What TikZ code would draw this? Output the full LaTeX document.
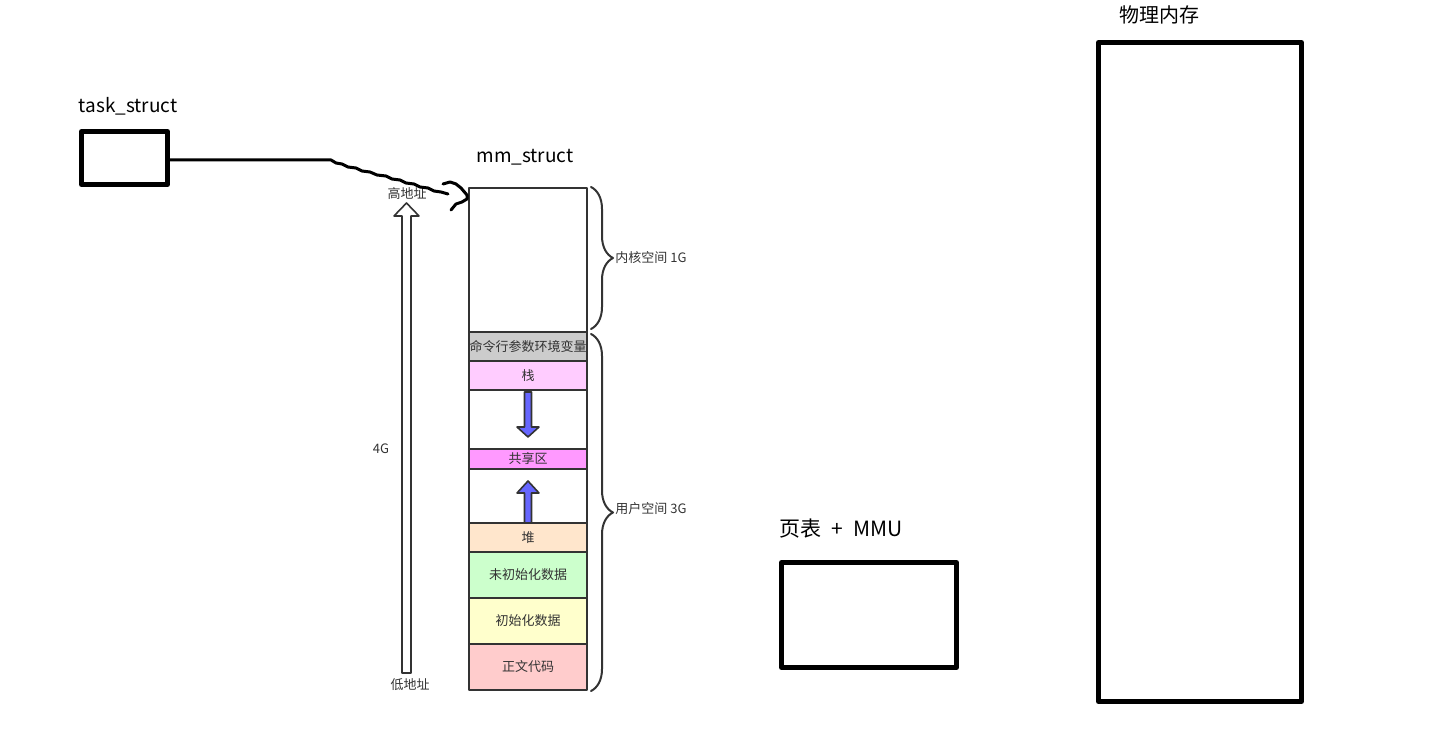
\documentclass[tikz,border=0pt]{standalone}
\usepackage{fontspec}
\setmainfont{Noto Sans CJK SC}
\usetikzlibrary{decorations.pathreplacing}
\definecolor{edge}{HTML}{333333}
\definecolor{cmdgray}{HTML}{CCCCCC}
\definecolor{stackpink}{HTML}{FFCCFF}
\definecolor{sharedpink}{HTML}{FF99FF}
\definecolor{heaporange}{HTML}{FFE6CC}
\definecolor{bssgreen}{HTML}{CCFFCC}
\definecolor{datayellow}{HTML}{FFFFCC}
\definecolor{textred}{HTML}{FFCCCC}
\definecolor{growblue}{HTML}{6666FF}

\begin{document}
\begin{tikzpicture}[x=0.5pt,y=-0.5pt,line cap=round,line join=round,
  every node/.style={inner sep=0pt,text=edge},
  bigbox/.style={draw=black,line width=2.5pt,fill=white},
  seg/.style={draw=edge,line width=1pt,minimum width=59pt,font=\fontsize{6.5}{7}\selectfont},
  lbl/.style={font=\fontsize{6.5}{7}\selectfont},
  title/.style={font=\fontsize{9.5}{11}\selectfont,text=black},
  growarrow/.style={draw=edge,line width=0.8pt,fill=growblue},
  bracket/.style={draw=edge,line width=1pt,decorate,decoration={brace,amplitude=11pt}}]
  \useasboundingbox (0,0) rectangle (1437,743);
  \node[bigbox,minimum width=43pt,minimum height=26.5pt] (task) at (124.5,158) {};
  \node[title] (tasklbl) at (128,106) {task\_struct};
  \node[title] (mmlbl) at (525,157) {mm\_struct};
  \node[title,font=\fontsize{10.5}{12}\selectfont] (mmulbl) at (841,529) {页表\enspace+\enspace MMU};
  \node[bigbox,minimum width=87.5pt,minimum height=52.5pt] (mmu) at (869,615) {};
  \node[title,font=\fontsize{10}{12}\selectfont] (physlbl) at (1159,15) {物理内存};
  \node[bigbox,minimum width=101.5pt,minimum height=329.5pt] (phys) at (1200,372) {};
  \node[seg,minimum height=72pt] (kern) at (528,260) {};
  \node[seg,minimum height=29.5pt] (gapa) at (528,419.5) {};
  \node[seg,minimum height=27pt] (gapb) at (528,496) {};
  \foreach \n/\a/\b/\c/\t in {cmd/332/361/cmdgray/命令行参数环境变量,stk/361/390/stackpink/栈,
    shm/449/469/sharedpink/共享区,heap/523/552/heaporange/堆,bss/552/598/bssgreen/未初始化数据,
    data/598/644/datayellow/初始化数据,text/644/690/textred/正文代码}
    \node[seg,fill=\c,minimum height={0.5pt*(\b-\a)}] (\n) at (528,{(\a+\b)/2}) {\t};
  \draw[growarrow] (524.5,392) -- (524.5,427) -- (517,427) -- (528,437) -- (539,427) -- (531.5,427) -- (531.5,392) -- cycle;
  \draw[growarrow] (524.5,523) -- (524.5,493) -- (517,493) -- (528,481) -- (539,493) -- (531.5,493) -- (531.5,523) -- cycle;
  \draw[bracket] ([xshift=1.5pt]kern.north east) -- ([xshift=1.5pt,yshift=2pt]kern.south east);
  \draw[bracket] ([xshift=1.5pt,yshift=-1.5pt]cmd.north east) -- ([xshift=1.5pt]text.south east);
  \node[lbl,anchor=west] (kernlbl) at (615,258) {内核空间 1G};
  \node[lbl,anchor=west] (userlbl) at (615,509) {用户空间 3G};
  \draw[draw=edge,line width=0.8pt,fill=white] (402,673) -- (402,216) -- (394,216) -- (406.5,203) -- (419,216) -- (411,216) -- (411,673) -- cycle;
  \node[lbl] (highlbl) at (407,194) {高地址};
  \node[lbl] (lowlbl) at (410,685) {低地址};
  \node[lbl] (sizelbl) at (381,449) {4G};
  \coordinate (tip) at (467,195);
  \draw[line width=1.5pt] ([yshift=-1pt]task.east) -- (331,160) -- (336,163) -- (342,164) -- (348,167) -- (356,168) -- (362,171) -- (370,172) -- (377,175) -- (386,176) -- (392,179) -- (400,180) -- (406,183) -- (414,184) -- (420,187) -- (428,188) -- (434,191) -- (441,192) -- (448,194);
  \draw[line width=1.5pt] (443,184) -- (450,182) -- (456,184) -- (461,188) -- (tip) -- (467,199) -- (462,202) -- (456,204) -- (451,210);
\end{tikzpicture}
\end{document}
